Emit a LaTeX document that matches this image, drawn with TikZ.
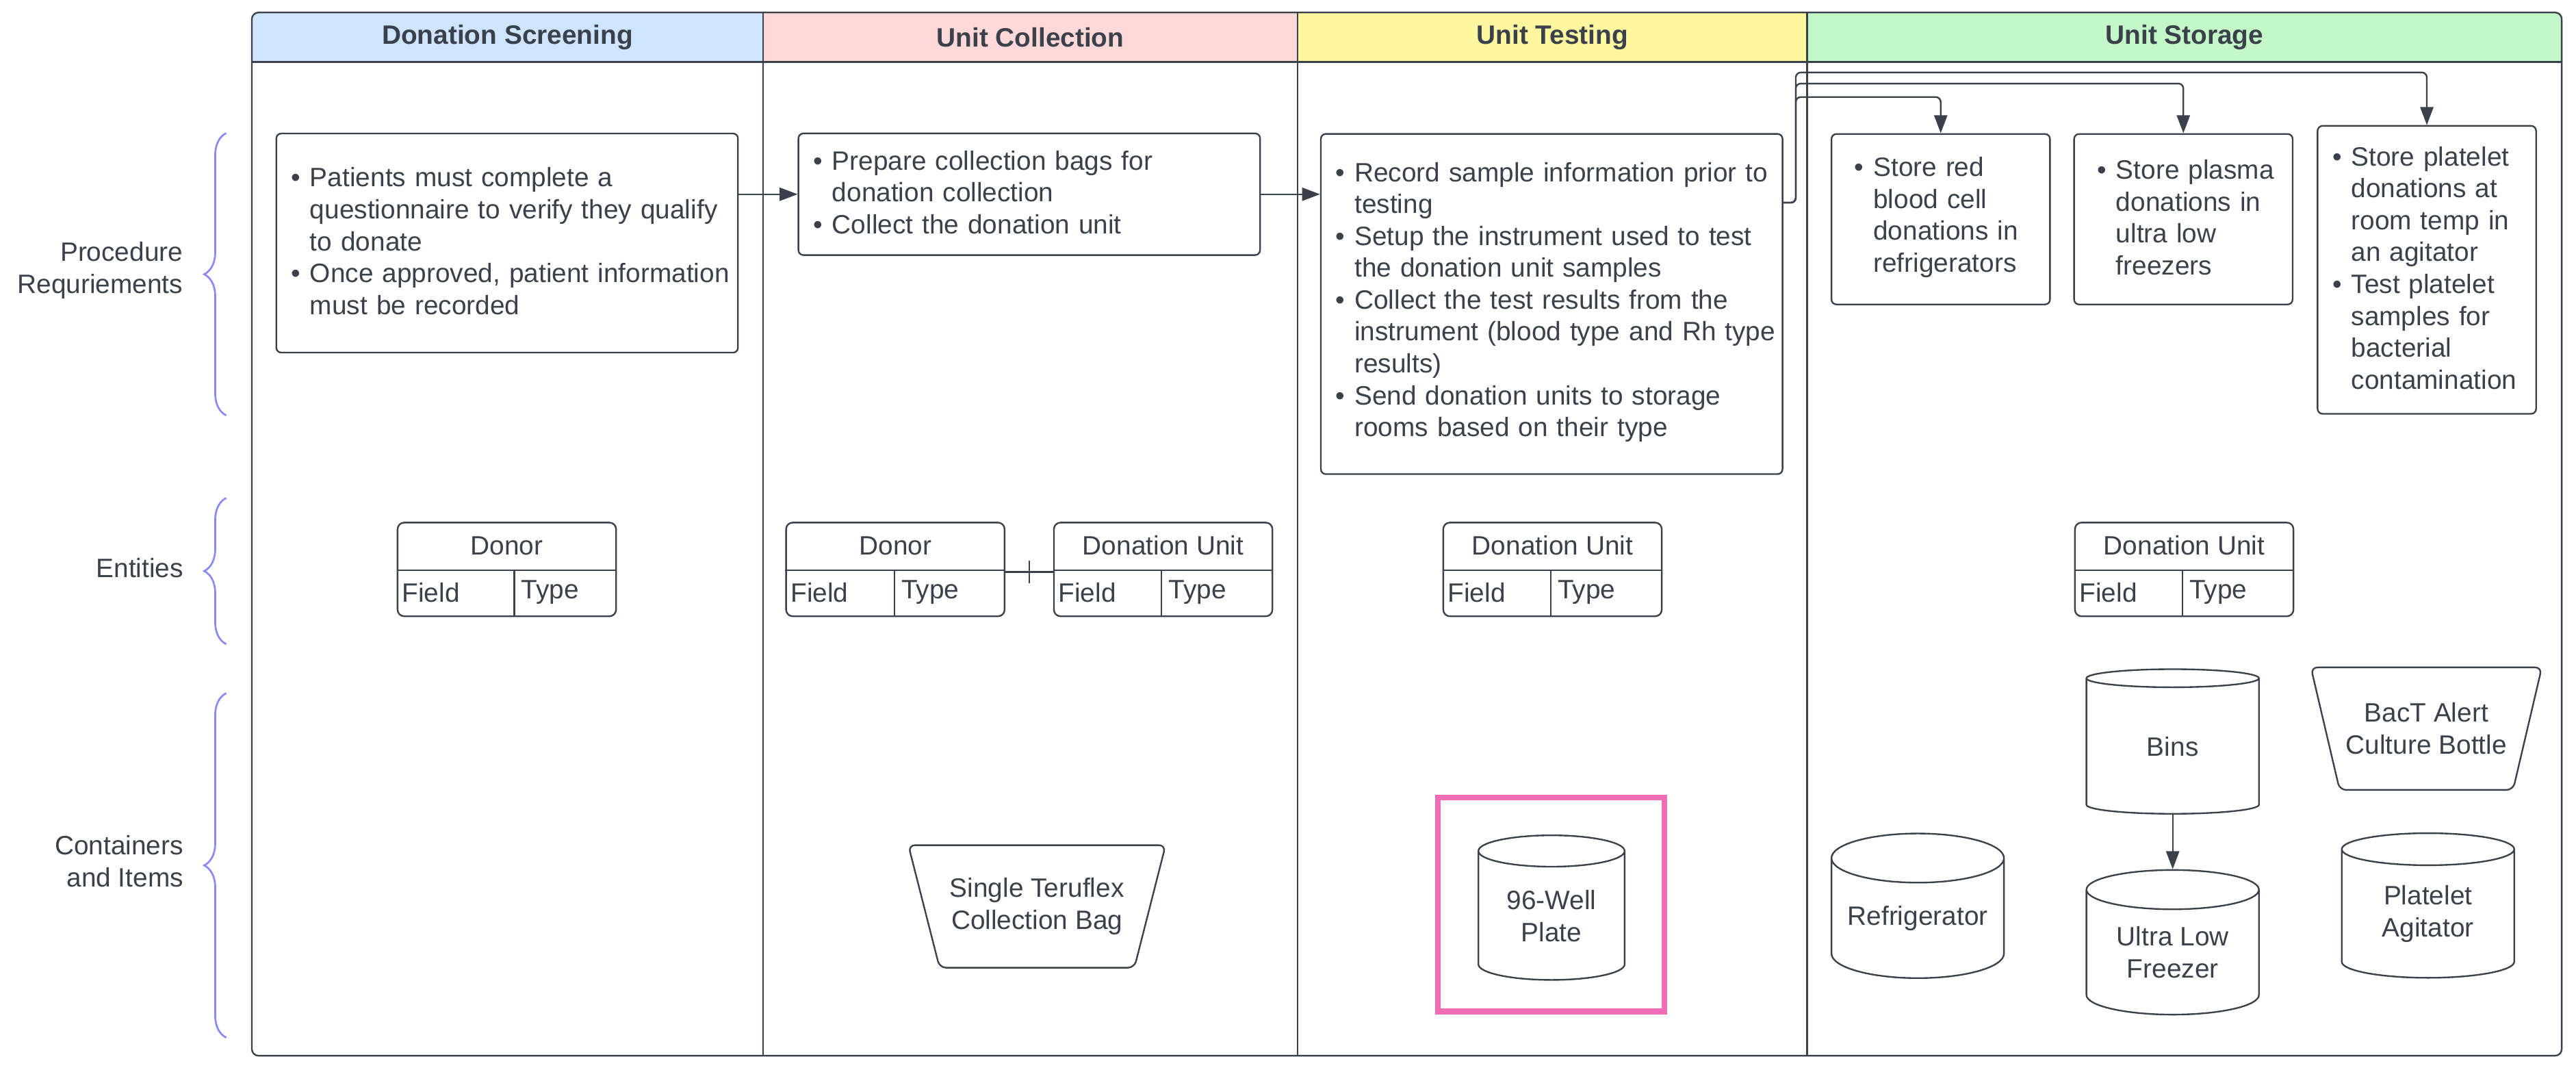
\documentclass[tikz,border=0pt]{standalone}
\usepackage{fontspec}
\setmainfont{Liberation Sans}
\usetikzlibrary{positioning,shapes.geometric,arrows.meta,decorations.pathreplacing}

\newlength{\pxu}
\setlength{\pxu}{0.025cm}

\definecolor{ink}{RGB}{58,65,74}
\definecolor{bracecol}{RGB}{138,138,246}
\definecolor{hdrblue}{RGB}{207,228,255}
\definecolor{hdrpink}{RGB}{255,217,217}
\definecolor{hdryellow}{RGB}{255,246,160}
\definecolor{hdrgreen}{RGB}{195,247,200}
\definecolor{markpink}{RGB}{240,108,180}

\newcommand{\dgfont}{\fontsize{11.5}{13.8}\selectfont}
% bullet line with hanging indent
\newcommand{\bitem}{\par\noindent\leftskip=6\pxu\hangindent=11.5\pxu\hangafter=1\relax\makebox[11.5\pxu][l]{\textbullet}}
% closes the last bullet (keeps the text a little above the middle)
\newcommand{\bstop}{\par\vspace*{10\pxu}}
% entity table: name, centre, title, width of the field column
\newcommand{\enttable}[4]{%
  \node[etbl] (#1) at (#2) {};
  \node (#1-t) at ([yshift=-14.5\pxu]#1.north) {#3};
  \draw[line] ([yshift=-29.5\pxu]#1.north west) -- ([yshift=-29.5\pxu]#1.north east);
  \draw[line] ([yshift=-29.5\pxu,xshift=#4]#1.north west) -- ([xshift=#4]#1.south west);
  \node[anchor=west] (#1-f) at ([xshift=3\pxu,yshift=15\pxu]#1.south west) {Field};
  \node[anchor=west] (#1-y) at ([xshift=#4+4\pxu,yshift=15\pxu]#1.south west) {Type};
}

\begin{document}
\begin{tikzpicture}[x=0.025cm, y=-0.025cm,
    every node/.style={font=\dgfont, text=ink, inner sep=0pt},
    line/.style={draw=ink, line width=0.7pt},
    conn/.style={line, -{Triangle[length=7.8pt, width=5.7pt]}},
    hdr/.style={font=\dgfont\bfseries, minimum height=30.2\pxu},
    rowlbl/.style={anchor=east, align=right},
    brc/.style={draw=bracecol, line width=0.8pt, decorate, decoration={brace, amplitude=13.4\pxu}},
    stepbox/.style={line, rounded corners=3\pxu, align=left, inner xsep=3\pxu},
    storebox/.style={stepbox, minimum height=103.7\pxu, text width=117\pxu, inner xsep=8\pxu},
    etbl/.style={line, rounded corners=4\pxu, minimum width=133\pxu, minimum height=57\pxu},
    drum/.style={line, cylinder, shape border rotate=90, shape aspect=0.35, anchor=shape center, minimum width=105\pxu, minimum height=88\pxu, align=center},
    bagbox/.style={minimum height=74\pxu, align=center}
]
\useasboundingbox (0,0) rectangle (1568,659);

% lanes
\begin{scope}
  \clip[rounded corners=4\pxu] (153.3,7.6) rectangle (1559.3,642.4);
  \node[hdr, fill=hdrblue, minimum width=311.2\pxu] (hscreen) at (308.9,22.7) {Donation Screening};
  \node[hdr, fill=hdrpink, minimum width=325.3\pxu] (hcollect) at (627.15,22.7) {Unit Collection};
  \node[hdr, fill=hdryellow, minimum width=310.2\pxu] (htest) at (944.9,22.7) {Unit Testing};
  \node[hdr, fill=hdrgreen, minimum width=459.3\pxu] (hstore) at (1329.65,22.7) {Unit Storage};
\end{scope}
\draw[line, rounded corners=4\pxu] (153.3,7.6) rectangle (1559.3,642.4);
\draw[line, line width=1pt] (153.3,37.8) -- (1559.3,37.8);
\foreach \x in {464.5,789.8,1100}
  \draw[line] (\x,7.6) -- (\x,642.4);

% row labels
\node[rowlbl] (lproc) at (111.6,164.6) {Procedure\\Requriements};
\node[rowlbl] (lent) at (111.9,345.8) {Entities};
\node[rowlbl] (lcont) at (111.9,524.1) {Containers\\and Items};
\draw[brc] (137.7,252.8) -- (137.7,81);
\draw[brc] (137.7,392) -- (137.7,303);
\draw[brc] (137.7,631.4) -- (137.7,421.8);

% procedure steps
\node[stepbox, text width=275\pxu, minimum height=133.3\pxu] (sbox) at (308.7,147.9) {%
  \bitem Patients must complete a\newline questionnaire to verify they qualify\newline to donate
  \bitem Once approved, patient information\newline must be recorded\bstop};
\node[stepbox, text width=275\pxu, minimum height=74\pxu] (cbox) at (626.5,118.2) {%
  \bitem Prepare collection bags for\newline donation collection
  \bitem Collect the donation unit\bstop};
\node[stepbox, text width=275\pxu, minimum height=207\pxu] (tbox) at (944.5,185) {%
  \bitem Record sample information prior to\newline testing
  \bitem Setup the instrument used to test\newline the donation unit samples
  \bitem Collect the test results from the\newline instrument (blood type and Rh type\newline results)
  \bitem Send donation units to storage\newline rooms based on their type\bstop};
\node[storebox] (sred) at (1181.3,133.4) {%
  \bitem Store red\newline blood cell\newline donations in\newline refrigerators\bstop};
\node[storebox] (splasma) at (1329,133.4) {%
  \bitem Store plasma\newline donations in\newline ultra low\newline freezers\bstop};
\node[stepbox, text width=127\pxu, minimum height=175.2\pxu] (splat) at (1477.2,164.2) {%
  \bitem Store platelet\newline donations at\newline room temp in\newline an agitator
  \bitem Test platelet\newline samples for\newline bacterial\newline contamination\bstop};

\draw[conn] (sbox.east |- cbox.west) -- (cbox.west);
\draw[conn] (cbox.east) -- (tbox.west |- cbox.east);
\draw[conn, rounded corners=3\pxu] ([yshift=-42.3\pxu]tbox.north east) -- ++(7.6,0) |- ([yshift=22\pxu]sred.north) -- (sred.north);
\draw[conn, rounded corners=3\pxu] ([yshift=-42.3\pxu]tbox.north east) -- ++(7.6,0) |- ([yshift=30.2\pxu]splasma.north) -- (splasma.north);
\draw[conn, rounded corners=3\pxu] ([yshift=-42.3\pxu]tbox.north east) -- ++(7.6,0) |- ([yshift=32\pxu]splat.north) -- (splat.north);

% entities
\enttable{sdonor}{308.5,346.5}{Donor}{71.6\pxu}
\enttable{cdonor}{545,346.5}{Donor}{66.4\pxu}
\enttable{cunit}{708,346.5}{Donation Unit}{66\pxu}
\enttable{tunit}{945,346.5}{Donation Unit}{66\pxu}
\enttable{sunit}{1329.5,346.5}{Donation Unit}{66\pxu}
\draw[line] ([yshift=-1.5\pxu]cdonor.east) -- ([yshift=-1.5\pxu]cunit.west) coordinate[pos=.5] (onemark);
\draw[line] ([yshift=7\pxu]onemark) -- ([yshift=-7\pxu]onemark);

% containers and items
\node[bagbox, minimum width=156\pxu] (bag) at (631.2,551.6) {Single Teruflex\\Collection Bag};
\draw[line, rounded corners=4\pxu] (bag.north west) -- (bag.north east) -- ([xshift=-19\pxu]bag.south east) -- ([xshift=19\pxu]bag.south west) -- cycle;
\node[draw=markpink, line width=2.5pt, minimum width=137.9\pxu, minimum height=130.2\pxu] (platefrm) at (944.1,550.3) {};
\node[drum, minimum width=89\pxu] (plate) at (944.4,552.3) {96-Well\\Plate};
\node[drum] (fridge) at (1167.3,551.2) {Refrigerator};
\node[drum] (bins) at (1322.5,451.2) {Bins};
\node[drum] (ulf) at (1322.5,573.4) {Ultra Low\\Freezer};
\node[drum] (agit) at (1477.9,551) {Platelet\\Agitator};
\draw[conn] (bins.bottom) -- (ulf.top);
\node[bagbox, minimum width=140\pxu] (bact) at (1476.9,443.4) {BacT Alert\\Culture Bottle};
\draw[line, rounded corners=4\pxu] (bact.north west) -- (bact.north east) -- ([xshift=-17.5\pxu]bact.south east) -- ([xshift=17.5\pxu]bact.south west) -- cycle;
\end{tikzpicture}
\end{document}
